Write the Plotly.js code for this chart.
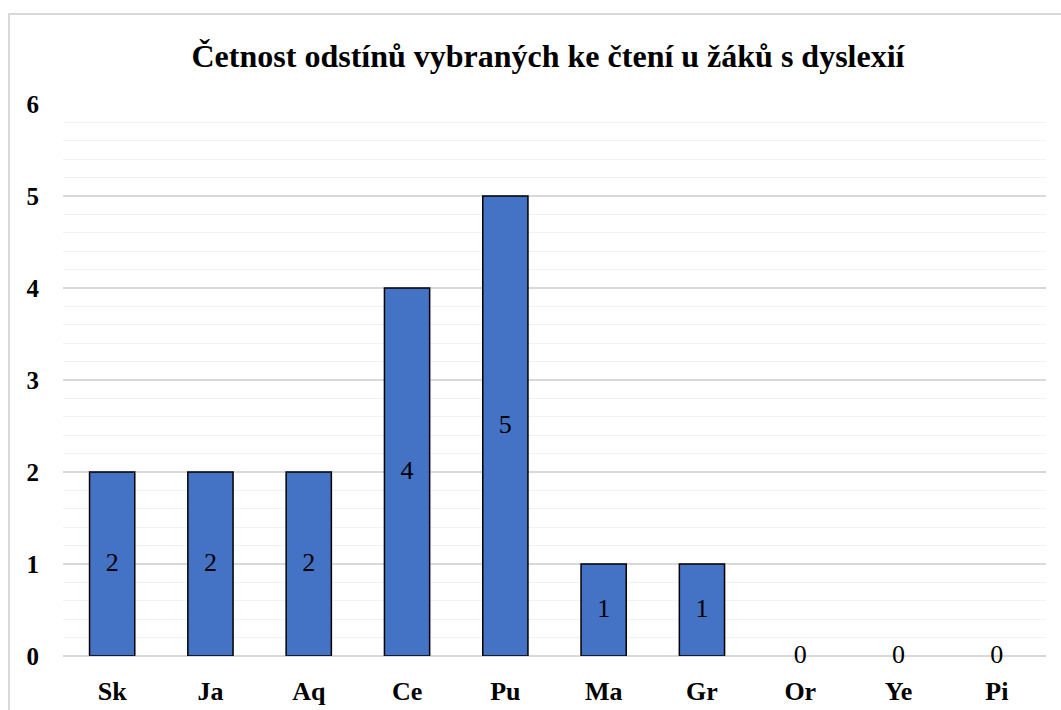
<!DOCTYPE html>
<html><head><meta charset="utf-8">
<script src="https://cdn.plot.ly/plotly-3.0.1.min.js"></script>
<style>body{margin:0;background:#fff}#c{width:1061px;height:710px}</style>
</head><body><div id="c"></div>
<script>
const categories = ["Sk","Ja","Aq","Ce","Pu","Ma","Gr","Or","Ye","Pi"];
const counts = [2,2,2,4,5,1,1,0,0,0];
const yTicks = [0,1,2,3,4,5,6];
const chartTitle = "Četnost odstínů vybraných ke čtení u žáků s dyslexií";

const serif = "Liberation Serif";
const bars = {
  type:"bar", x:categories, y:counts, width:0.46,
  marker:{color:"#4472C4", line:{color:"#000", width:counts.map(v=>v>0?1.5:0)}},
  hoverinfo:"x+y", showlegend:false
};
const labels = {
  type:"scatter", mode:"text", x:categories, y:counts.map(v=>v/2),
  text:counts.map(String), textposition:"middle center",
  textfont:{family:serif, size:26, color:"#000"},
  hoverinfo:"skip", showlegend:false, cliponaxis:false
};
const layout = {
  width:1061, height:710,
  margin:{l:63, r:15, t:104, b:54},
  paper_bgcolor:"#fff", plot_bgcolor:"#fff",
  font:{family:serif},
  title:{text:"<b>"+chartTitle+"</b>", font:{family:serif, size:32, color:"#000"},
         x:548/1061, xref:"container", xanchor:"center", y:1-56/710, yref:"container", yanchor:"middle"},
  xaxis:{type:"category", showgrid:false, zeroline:false, showline:false,
         ticks:"outside", ticklen:12, tickcolor:"rgba(0,0,0,0)",
         tickfont:{family:serif, size:26, color:"#000", weight:"bold"}, fixedrange:true},
  yaxis:{range:[0,6], tickvals:yTicks, ticktext:yTicks.map(v=>"<b>"+v+"</b>"),
         showgrid:true, gridcolor:"#d9d9d9", gridwidth:1.5,
         zeroline:true, zerolinecolor:"#d9d9d9", zerolinewidth:1.5, showline:false,
         ticks:"outside", ticklen:18, tickcolor:"rgba(0,0,0,0)",
         minor:{dtick:0.2, showgrid:true, gridcolor:"#f2f2f2", gridwidth:1.2},
         tickfont:{family:serif, size:25, color:"#000"}, fixedrange:true},
  shapes:[{type:"rect", xref:"paper", yref:"paper",
           x0:(9-63)/983, x1:(1063-63)/983, y0:(656-712)/552, y1:(656-14)/552,
           line:{color:"#d9d9d9", width:2}, fillcolor:"rgba(0,0,0,0)", layer:"below"}]
};
Plotly.newPlot("c",[bars,labels],layout,{displayModeBar:false,staticPlot:true});
</script></body></html>
